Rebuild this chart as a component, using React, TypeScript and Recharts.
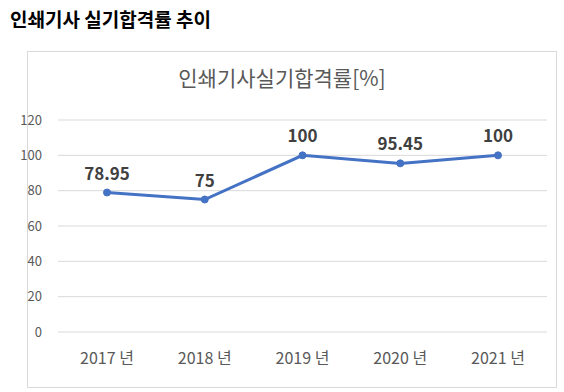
import { LineChart, Line, XAxis, YAxis, CartesianGrid, LabelList } from "recharts"

const years = ["2017 년", "2018 년", "2019 년", "2020 년", "2021 년"]
const passRates = [78.95, 75, 100, 95.45, 100]
const yTicks = [0, 20, 40, 60, 80, 100, 120]

const FONT = "'Noto Sans CJK KR', 'Noto Sans', sans-serif"

export default function App() {
  const data = years.map((year, i) => ({ year, rate: passRates[i] }))

  return (
    <div
      style={{
        position: "absolute",
        left: 0,
        top: 0,
        width: 564,
        height: 392,
        background: "#fff",
        fontFamily: FONT,
        overflow: "hidden",
      }}
    >
      <div
        style={{
          position: "absolute",
          left: 10,
          top: 5,
          fontSize: 19,
          fontWeight: 700,
          color: "#000",
          whiteSpace: "nowrap",
        }}
      >
        {"인쇄기사 실기합격률 추이"}
      </div>
      <div
        style={{
          position: "absolute",
          left: 27,
          top: 51,
          width: 528,
          height: 335,
          border: "1px solid #d9d9d9",
        }}
      />
      <div
        style={{
          position: "absolute",
          left: 0,
          top: 62,
          width: 564,
          textAlign: "center",
          fontSize: 21,
          color: "#595959",
        }}
      >
        {"인쇄기사실기합격률[%]"}
      </div>
      <div style={{ position: "absolute", left: 0, top: 0 }}>
        <LineChart
          width={564}
          height={392}
          data={data}
          margin={{ top: 120, right: 17, bottom: 0, left: 0 }}
        >
          <CartesianGrid vertical={false} stroke="#d9d9d9" />
          <XAxis
            dataKey="year"
            height={60}
            axisLine={false}
            tickLine={false}
            padding={{ left: 49, right: 49 }}
            tickMargin={15}
            tick={{ fill: "#595959", fontSize: 16, fontFamily: FONT }}
            interval={0}
          />
          <YAxis
            width={58}
            domain={[0, 120]}
            ticks={yTicks}
            axisLine={false}
            tickLine={false}
            tickMargin={10}
            tick={{ fill: "#595959", fontSize: 13, fontFamily: FONT }}
          />
          <Line
            type="linear"
            dataKey="rate"
            stroke="#4472C4"
            strokeWidth={3}
            dot={{ r: 3.5, fill: "#4472C4", stroke: "#4472C4", strokeWidth: 1 }}
            isAnimationActive={false}
          >
            <LabelList
              dataKey="rate"
              position="top"
              offset={13}
              style={{ fill: "#404040", fontSize: 17, fontWeight: 700, fontFamily: FONT }}
            />
          </Line>
        </LineChart>
      </div>
    </div>
  )
}
